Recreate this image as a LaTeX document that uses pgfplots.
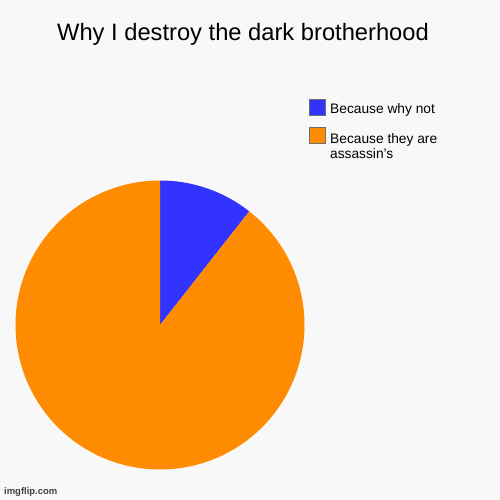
\documentclass[border=0pt]{standalone}
\usepackage{pgfplots}
\pgfplotsset{compat=1.18}
\usepackage{pgfplotstable}
\usepackage{fontspec}
\setmainfont{Liberation Sans}
\definecolor{bgcol}{RGB}{248,248,248}
\definecolor{pieblue}{RGB}{51,51,255}
\definecolor{pieorange}{RGB}{255,140,0}
\definecolor{boxgray}{RGB}{110,110,110}

\pgfplotstableread[col sep=comma]{
label,value
Because why not,10.6
Because they are assassin's,89.4
}\piedata

\begin{document}
\begin{tikzpicture}[x=1bp,y=1bp]
\pgfplotstablegetelem{0}{value}\of\piedata \let\va\pgfplotsretval
\pgfplotstablegetelem{1}{value}\of\piedata \let\vb\pgfplotsretval
\pgfmathsetmacro{\bspan}{\va/(\va+\vb)*360}
\pgfmathsetmacro{\bstart}{90-\bspan}
\pgfmathsetmacro{\ostart}{90-360}
\useasboundingbox (0bp,0bp) rectangle (500bp,500bp);
\fill[bgcol] (0bp,0bp) rectangle (500bp,500bp);
\begin{axis}[
  at={(15.5bp,30.5bp)}, anchor=south west,
  width=289bp, height=289bp, scale only axis,
  hide axis, clip=false,
  xmin=-1, xmax=1, ymin=-1, ymax=1,
]
\addplot[fill=pieblue, draw=none, domain=\bstart:90, samples=80, variable=\t]
  ({cos(t)},{sin(t)}) -- (axis cs:0,0) -- cycle;
\addplot[fill=pieorange, draw=none, domain=\ostart:\bstart, samples=300, variable=\t]
  ({cos(t)},{sin(t)}) -- (axis cs:0,0) -- cycle;
\end{axis}
\node[anchor=base, inner sep=0, font=\fontsize{23.8}{28}\selectfont] at (243bp,459bp) {Why I destroy the dark brotherhood};
% legend
\draw[boxgray, line width=1bp, fill=pieblue] (309.5bp,384.5bp) rectangle (325.5bp,400.5bp);
\draw[boxgray, line width=1bp, fill=pieorange] (309.5bp,356bp) rectangle (325.5bp,372bp);
\node[anchor=base west, inner sep=0, font=\fontsize{13.8}{15}\selectfont] at (330bp,386bp) {Because why not};
\node[anchor=base west, inner sep=0, font=\fontsize{13.8}{15}\selectfont] at (330bp,356.7bp) {Because they are};
\node[anchor=base west, inner sep=0, font=\fontsize{13.8}{15}\selectfont] at (330bp,341.7bp) {assassin’s};
\node[anchor=base west, inner sep=0, font=\bfseries\fontsize{9.5}{11}\selectfont, text=black!75] at (4bp,6bp) {imgflip.com};
\end{tikzpicture}
\end{document}
